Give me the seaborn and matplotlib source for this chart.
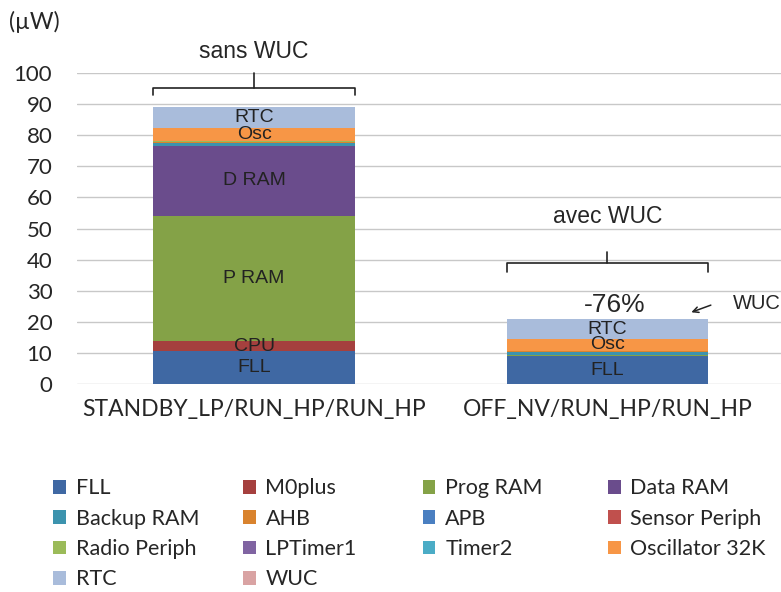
import numpy as np
import pandas as pd
import matplotlib
matplotlib.use("Agg")
import matplotlib.pyplot as plt
import seaborn as sns

# données (µW)
categories = ['STANDBY_LP/RUN_HP/RUN_HP', 'OFF_NV/RUN_HP/RUN_HP']
components = ['FLL', 'M0plus', 'Prog RAM', 'Data RAM', 'Backup RAM', 'AHB', 'APB',
              'Sensor Periph', 'Radio Periph', 'LPTimer1', 'Timer2',
              'Oscillator 32K', 'RTC', 'WUC']
sans_wuc = [10.6, 3.2, 40.3, 22.5, 1.0, 0.1, 0.1, 0.1, 0.1, 0.1, 0.1, 4.0, 6.7, 0.0]
avec_wuc = [9.0, 0.0, 0.5, 0.0, 1.0, 0.05, 0.05, 0.05, 0.05, 0.05, 0.05, 3.7, 6.4, 0.15]
colors = ['#3F68A3', '#A5403E', '#84A247', '#6A4C8C', '#3C93AE', '#D9832E', '#4A7FC1',
          '#C0504D', '#9BBB59', '#8064A2', '#4BACC6', '#F79646', '#A9BCDB', '#D9A3A3']

seg_labels_1 = {'FLL': 'FLL', 'M0plus': 'CPU', 'Prog RAM': 'P RAM',
                'Data RAM': 'D RAM', 'Oscillator 32K': 'Osc', 'RTC': 'RTC'}
seg_labels_2 = {'FLL': 'FLL', 'Oscillator 32K': 'Osc', 'RTC': 'RTC'}

sns.set_style("whitegrid")
plt.rcParams['font.family'] = ['Lato', 'DejaVu Sans']

fig = plt.figure(figsize=(7.81, 5.92), dpi=100)
ax = fig.add_axes([0.099, 0.351, 0.905, 0.526])

df = pd.DataFrame({'cat': categories * len(components),
                   'comp': np.repeat(components, 2),
                   'val': np.ravel(np.column_stack([sans_wuc, avec_wuc]))})

bottom = np.zeros(2)
for comp, col in zip(components, colors):
    vals = df[df['comp'] == comp]['val'].to_numpy()
    sns.barplot(x=categories, y=vals, bottom=bottom, color=col, width=0.57,
                saturation=1, ax=ax, label=comp, linewidth=0)
    for i, labels in enumerate([seg_labels_1, seg_labels_2]):
        if comp in labels:
            ax.text(i, bottom[i] + vals[i] / 2, labels[comp], ha='center', va='center',
                    fontsize=14, color='#222222', family=['Liberation Sans'])
    bottom = bottom + vals

handles, labels = ax.get_legend_handles_labels()
if ax.get_legend() is not None:
    ax.get_legend().remove()

ax.set_ylim(0, 100)
ax.set_xlim(-0.5, 1.5)
ax.set_yticks(range(0, 101, 10))
ax.grid(axis='y', color='#c8c8c8', linewidth=1)
ax.grid(axis='x', visible=False)
for s in ax.spines.values():
    s.set_visible(False)
ax.tick_params(axis='y', labelsize=16, length=0, pad=18)
ax.tick_params(axis='x', labelsize=16.5, length=0, pad=11)
ax.set_xlabel('')
ax.set_ylabel('')

# accolades
def accolade(x, y, h, up, label, ly):
    w = 0.285
    ax.plot([x - w, x - w, x + w, x + w], [y - h, y, y, y - h], color='#222222',
            lw=1.2, clip_on=False)
    ax.plot([x, x], [y, y + up], color='#222222', lw=1.2, clip_on=False)
    ax.text(x, ly, label, ha='center', va='center', fontsize=16.5,
            family=['Liberation Sans'], clip_on=False)

accolade(0, 95.2, 2.3, 4.8, 'sans WUC', 106.7)
accolade(1, 38.9, 2.9, 3.5, 'avec WUC', 53.7)

ax.text(1.02, 25.4, '-76%', ha='center', va='center', fontsize=19,
        family=['Liberation Sans'])
ax.annotate('', xy=(1.23, 22.8), xytext=(1.30, 25.7),
            arrowprops=dict(arrowstyle='->', color='#222222', lw=1.1))
ax.text(1.355, 26.0, 'WUC', ha='left', va='center', fontsize=14.5,
        family=['Liberation Sans'], clip_on=False)

fig.text(0.012, 0.963, '(µW)', fontsize=16.5, ha='left', va='center')

# légende : une colonne par légende, remplie ligne par ligne
col_x = [0.068, 0.311, 0.541, 0.778]
for c in range(4):
    idx = list(range(c, len(handles), 4))
    leg = fig.legend([handles[i] for i in idx], [labels[i] for i in idx],
                     loc='upper left', bbox_to_anchor=(col_x[c], 0.192),
                     borderaxespad=0, borderpad=0, frameon=False,
                     fontsize=15.5, handlelength=0.6, handleheight=0.6,
                     handletextpad=0.45, labelspacing=0.48)

fig.savefig('out.png', dpi=100)
